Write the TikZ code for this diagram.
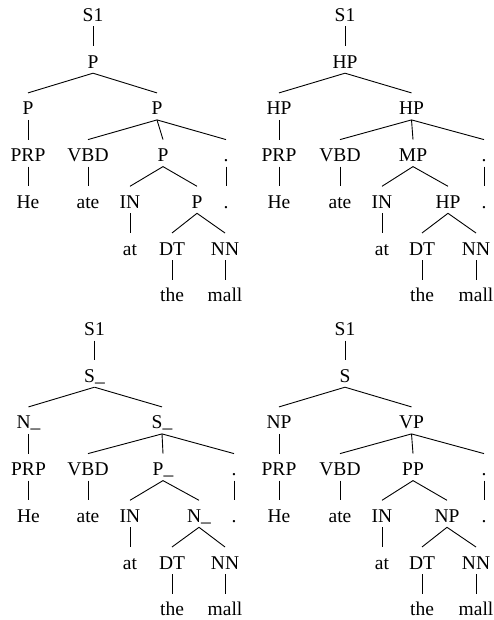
\documentclass[tikz,border=0pt]{standalone}
\usepackage{fontspec}
\setmainfont{Liberation Serif}
\newfontfamily\treefont{Liberation Serif}
\newcommand\us{\raisebox{1.2pt}{\_}}
\begin{document}
\begin{tikzpicture}[x=1pt,y=-1pt,
  tn/.style={anchor=base,inner sep=0pt,font=\treefont\fontsize{19.5}{20}\selectfont},
  br/.style={line width=0.9pt,black}]
\useasboundingbox (0,0) rectangle (493,620);
% ---------- tree 1 ----------
\node[tn] (a0) at (93,21.5) {S1};
\node[tn] (a1) at (93,68.2) {P};
\node[tn] (a2) at (28,114.9) {P};
\node[tn] (a3) at (157,114.9) {P};
\node[tn] (a4) at (28,161.6) {PRP};
\node[tn] (a5) at (28,208.3) {He};
\node[tn] (a6) at (88,161.6) {VBD};
\node[tn] (a7) at (88,208.3) {ate};
\node[tn] (a8) at (163,161.6) {P};
\node[tn] (a9) at (226,161.6) {.};
\node[tn] (a10) at (226,208.3) {.};
\node[tn] (a11) at (130,208.3) {IN};
\node[tn] (a12) at (130,255) {at};
\node[tn] (a13) at (197,208.3) {P};
\node[tn] (a14) at (172,255) {DT};
\node[tn] (a15) at (172,301.7) {the};
\node[tn] (a16) at (225,255) {NN};
\node[tn] (a17) at (225,301.7) {mall};
% ---------- tree 2 ----------
\node[tn] (b0) at (345,21.5) {S1};
\node[tn] (b1) at (345,68.2) {HP};
\node[tn] (b2) at (279,114.9) {HP};
\node[tn] (b3) at (411.5,114.9) {HP};
\node[tn] (b4) at (279,161.6) {PRP};
\node[tn] (b5) at (279,208.3) {He};
\node[tn] (b6) at (340,161.6) {VBD};
\node[tn] (b7) at (340,208.3) {ate};
\node[tn] (b8) at (413,161.6) {MP};
\node[tn] (b9) at (484,161.6) {.};
\node[tn] (b10) at (484,208.3) {.};
\node[tn] (b11) at (382,208.3) {IN};
\node[tn] (b12) at (382,255) {at};
\node[tn] (b13) at (448,208.3) {HP};
\node[tn] (b14) at (422,255) {DT};
\node[tn] (b15) at (422,301.7) {the};
\node[tn] (b16) at (476,255) {NN};
\node[tn] (b17) at (476,301.7) {mall};
\begin{scope}[shift={(0,314)}]
% ---------- tree 3 ----------
\node[tn] (c0) at (94.5,21.5) {S1};
\node[tn] (c1) at (94.5,68.2) {S\us};
\node[tn] (c2) at (28.5,114.9) {N\us};
\node[tn] (c3) at (162,114.9) {S\us};
\node[tn] (c4) at (28.5,161.6) {PRP};
\node[tn] (c5) at (28.5,208.3) {He};
\node[tn] (c6) at (88,161.6) {VBD};
\node[tn] (c7) at (88,208.3) {ate};
\node[tn] (c8) at (163,161.6) {P\us};
\node[tn] (c9) at (234,161.6) {.};
\node[tn] (c10) at (234,208.3) {.};
\node[tn] (c11) at (130,208.3) {IN};
\node[tn] (c12) at (130,255) {at};
\node[tn] (c13) at (199,208.3) {N\us};
\node[tn] (c14) at (172,255) {DT};
\node[tn] (c15) at (172,301.7) {the};
\node[tn] (c16) at (225,255) {NN};
\node[tn] (c17) at (225,301.7) {mall};
% ---------- tree 4 ----------
\node[tn] (d0) at (345,21.5) {S1};
\node[tn] (d1) at (345,68.2) {S};
\node[tn] (d2) at (279,114.9) {NP};
\node[tn] (d3) at (411.5,114.9) {VP};
\node[tn] (d4) at (279,161.6) {PRP};
\node[tn] (d5) at (279,208.3) {He};
\node[tn] (d6) at (340,161.6) {VBD};
\node[tn] (d7) at (340,208.3) {ate};
\node[tn] (d8) at (413,161.6) {PP};
\node[tn] (d9) at (484,161.6) {.};
\node[tn] (d10) at (484,208.3) {.};
\node[tn] (d11) at (382,208.3) {IN};
\node[tn] (d12) at (382,255) {at};
\node[tn] (d13) at (447,208.3) {NP};
\node[tn] (d14) at (422,255) {DT};
\node[tn] (d15) at (422,301.7) {the};
\node[tn] (d16) at (476,255) {NN};
\node[tn] (d17) at (476,301.7) {mall};
\end{scope}
\foreach \t in {a,b,c,d}{
  \foreach \p/\c in {0/1,1/2,1/3,2/4,4/5,3/6,6/7,3/8,3/9,9/10,8/11,11/12,8/13,13/14,14/15,13/16,16/17}{
    \draw[br] ([yshift=-5pt]\t\p.base) -- ([yshift=22pt]\t\c.base);
  }
}
\end{tikzpicture}
\end{document}
